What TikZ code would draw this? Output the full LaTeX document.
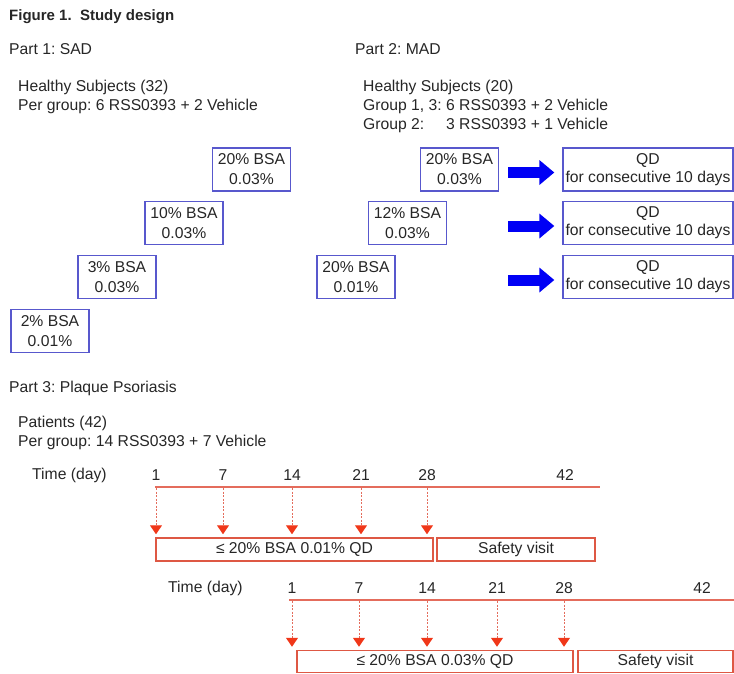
\documentclass[tikz,border=0pt]{standalone}
\usepackage{fontspec}
\setmainfont{Liberation Sans}
\usetikzlibrary{arrows.meta, positioning}
\definecolor{blubordo}{RGB}{88,88,205}
\definecolor{blupieno}{RGB}{0,0,245}
\definecolor{rossolinea}{RGB}{228,108,92}
\definecolor{rossopunta}{RGB}{240,55,25}
\definecolor{rossobordo}{RGB}{222,88,68}
\frenchspacing

\begin{document}
\begin{tikzpicture}[
  x=1pt, y=-1pt,
  font=\fontsize{15.7}{19}\selectfont,
  testo/.style={anchor=west, inner sep=0pt, text height=11.5pt, text depth=3pt, text=black!85},
  dose/.style={draw=blubordo, line width=1.3pt, align=center, text=black!85,
               minimum width=78pt, minimum height=43pt, inner sep=0pt,
               font=\fontsize{15.7}{20}\selectfont},
  qdbox/.style={dose, minimum width=170pt, font=\fontsize{15.7}{18}\selectfont},
  freccia/.style={draw=blupieno, line width=11pt, -{Triangle[length=15pt,width=24pt]}},
  asse/.style={draw=rossolinea, line width=2pt},
  giorno/.style={inner sep=0pt, text height=11.5pt, text depth=0pt, text=black!85},
  trattino/.style={draw=rossolinea, line width=1pt, dash pattern=on 2pt off 1.5pt,
                   -{Triangle[length=9pt,width=12pt,color=rossopunta,fill=rossopunta]}},
  fase/.style={draw=rossobordo, line width=1.5pt, minimum height=23pt, inner sep=0pt, text=black!85}
]
\useasboundingbox (0,0) rectangle (734,673);

%--------------------------------------------------------------
% Titolo e intestazioni
%--------------------------------------------------------------
\node[testo, font=\bfseries\fontsize{15}{18}\selectfont] (titolo) at (9,16) {Figure 1.\ \ Study design};
\node[testo] (parte1) at (9,50) {Part 1: SAD};
\node[testo] (parte2) at (355,50) {Part 2: MAD};

\node[testo] (sani1) at (18,87) {Healthy Subjects (32)};
\node[testo] (gruppo1) at (18,106) {Per group: 6 RSS0393 + 2 Vehicle};

\node[testo] (sani2) at (363,87) {Healthy Subjects (20)};
\node[testo] (gruppo2a) at (363,106) {Group 1, 3: 6 RSS0393 + 2 Vehicle};
\node[testo] (gruppo2b) at (363,125) {\rlap{Group 2:}\phantom{Group 1, 3: }3 RSS0393 + 1 Vehicle};

%--------------------------------------------------------------
% Parte 1: dosi singole a scala
%--------------------------------------------------------------
\foreach \n/\x/\y/\testo in {%
  20/251.5/169.5/{20\% BSA\\0.03\%},
  10/184/223/{10\% BSA\\0.03\%},
  3/117/277/{3\% BSA\\0.03\%},
  2/50/331/{2\% BSA\\0.01\%}}{
  \node[dose] (sad\n) at (\x,\y) {\testo};
}

%--------------------------------------------------------------
% Parte 2: dosi multiple
%--------------------------------------------------------------
\foreach \n/\x/\y/\testo in {%
  1/459.5/169.5/{20\% BSA\\0.03\%},
  2/407.5/223/{12\% BSA\\0.03\%},
  3/356/277/{20\% BSA\\0.01\%}}{
  \node[dose] (mad\n) at (\x,\y) {\testo};
  \node[qdbox] (qd\n) at (648,\y) {QD\\for consecutive 10 days};
  \coordinate (via\n) at (508,\y+3);
  \draw[freccia, shorten >=8pt] (via\n) -- (via\n -| qd\n.west);
}

%--------------------------------------------------------------
% Parte 3: psoriasi a placche
%--------------------------------------------------------------
\node[testo] (parte3) at (9,388) {Part 3: Plaque Psoriasis};
\node[testo] (pazienti) at (18,423) {Patients (42)};
\node[testo] (gruppo3) at (18,442) {Per group: 14 RSS0393 + 7 Vehicle};

% prima linea del tempo
\node[testo] (tempo1) at (32,475) {Time (day)};
\coordinate (inizio1) at (155,487);
\coordinate (fine1) at (600,487);
\draw[asse] (inizio1) -- (fine1);
\node[fase, minimum width=277pt] (tratt1) at (294.5,549.5) {≤ 20\% BSA 0.01\% QD};
\node[fase, minimum width=158pt] (sicur1) at (516,549.5) {Safety visit};
\foreach \d/\x in {1/156, 7/223, 14/292, 21/361, 28/427}{
  \node[giorno] (ga\d) at (\x,475) {\d};
  \draw[trattino] ([yshift=-1pt]ga\d |- inizio1) -- ([yshift=3pt]ga\d |- tratt1.north);
}
\node[giorno] (ga42) at (565,475) {42};

% seconda linea del tempo
\node[testo] (tempo2) at (168,588) {Time (day)};
\coordinate (inizio2) at (289,600);
\coordinate (fine2) at (734,600);
\draw[asse] (inizio2) -- (fine2);
\node[fase, minimum width=276pt, minimum height=22pt] (tratt2) at (435,661.5) {≤ 20\% BSA 0.03\% QD};
\node[fase, minimum width=155pt, minimum height=22pt] (sicur2) at (655.5,661.5) {Safety visit};
\foreach \d/\x in {1/292, 7/359, 14/427, 21/497, 28/564}{
  \node[giorno] (gb\d) at (\x,588) {\d};
  \draw[trattino] ([yshift=-1pt]gb\d |- inizio2) -- ([yshift=3pt]gb\d |- tratt2.north);
}
\node[giorno] (gb42) at (702,588) {42};

\end{tikzpicture}
\end{document}
